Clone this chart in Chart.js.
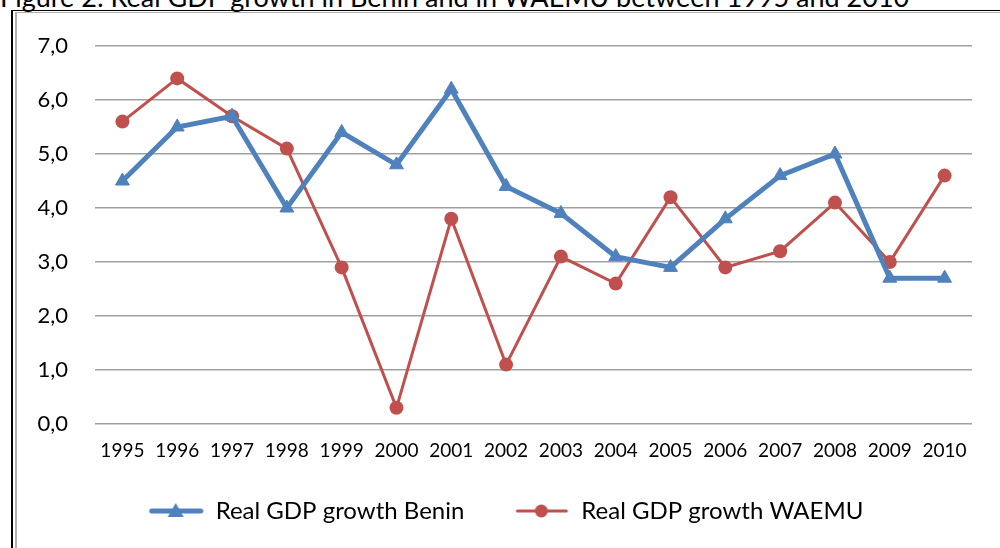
<!DOCTYPE html>
<html>
<head>
<meta charset="utf-8">
<script src="https://cdn.jsdelivr.net/npm/chart.js@4"></script>
<style>
    html, body { margin: 0; padding: 0; background: #fff; overflow: hidden; }
    body { width: 1000px; height: 548px; position: relative; font-family: Lato, sans-serif; }
    #title {
        position: absolute; left: 0; top: -20px; white-space: nowrap;
        font-size: 27px; color: #000;
    }
    #frame-outer {
        position: absolute; left: 11px; top: 10px; width: 1000px; height: 600px;
        border-left: 2px solid #000; border-top: 1px solid #000;
    }
    #frame-inner {
        position: absolute; left: 15px; top: 12px; width: 1000px; height: 600px;
        border-left: 2px solid #b0b0b0; border-top: 1px solid #b0b0b0;
    }
    #chart-wrap { position: absolute; left: 0; top: 0; width: 1000px; height: 548px; }
</style>
</head>
<body>
<div id="title">Figure 2: Real GDP growth in Benin and in WAEMU between 1995 and 2010</div>
<div id="frame-outer"></div>
<div id="frame-inner"></div>
<div id="chart-wrap"><canvas id="gdp-chart" width="1000" height="548"></canvas></div>
<script>
'use strict';

const years = ['1995', '1996', '1997', '1998', '1999', '2000', '2001', '2002',
    '2003', '2004', '2005', '2006', '2007', '2008', '2009', '2010'];
const growthBenin = [4.5, 5.5, 5.7, 4.0, 5.4, 4.8, 6.2, 4.4, 3.9, 3.1, 2.9, 3.8, 4.6, 5.0, 2.7, 2.7];
const growthWaemu = [5.6, 6.4, 5.7, 5.1, 2.9, 0.3, 3.8, 1.1, 3.1, 2.6, 4.2, 2.9, 3.2, 4.1, 3.0, 4.6];
const yTicks = [0, 1, 2, 3, 4, 5, 6, 7];

const BLUE = '#4f81bd';
const RED = '#c0504d';
const FONT = 'Lato, sans-serif';
const SWATCH_W = 95;

/** @description Legend swatch: line with marker in the middle, right part of the box */
function legendSwatch(color, lineWidth, marker) {
    let c = document.createElement('canvas');
    c.width = SWATCH_W;
    c.height = 18;
    let ctx = c.getContext('2d');
    let x0 = SWATCH_W - 55;
    let mid = x0 + 27;
    ctx.strokeStyle = color;
    ctx.fillStyle = color;
    ctx.lineWidth = lineWidth;
    ctx.lineCap = 'round';
    ctx.beginPath();
    ctx.moveTo(x0 + 3, 9);
    ctx.lineTo(SWATCH_W - 3, 9);
    ctx.stroke();
    ctx.beginPath();
    if (marker === 'triangle') {
        ctx.moveTo(mid, 1);
        ctx.lineTo(mid + 8, 15);
        ctx.lineTo(mid - 8, 15);
        ctx.closePath();
    } else {
        ctx.arc(mid, 9, 6.5, 0, Math.PI * 2);
    }
    ctx.fill();
    return c;
}

let ctx = document.getElementById('gdp-chart').getContext('2d');

let chart = new Chart(ctx, {
    type: 'line',
    data: {
        labels: years,
        datasets: [{
            label: 'Real GDP growth Benin',
            data: growthBenin,
            borderColor: BLUE,
            backgroundColor: BLUE,
            borderWidth: 5,
            pointStyle: 'triangle',
            pointRadius: 8,
            pointBorderWidth: 1,
            tension: 0
        }, {
            label: 'Real GDP growth WAEMU',
            data: growthWaemu,
            borderColor: RED,
            backgroundColor: RED,
            borderWidth: 3,
            pointStyle: 'circle',
            pointRadius: 7,
            pointBorderWidth: 0,
            tension: 0
        }]
    },
    options: {
        responsive: false,
        animation: false,
        maintainAspectRatio: false,
        layout: { padding: { top: 46, right: 28, left: 0, bottom: 15 } },
        plugins: {
            tooltip: { enabled: false },
            legend: {
                position: 'bottom',
                labels: {
                    font: { family: FONT, size: 24 },
                    color: '#000',
                    usePointStyle: true,
                    pointStyleWidth: SWATCH_W,
                    padding: 10,
                    generateLabels: function (chart) {
                        return [
                            { text: 'Real GDP growth Benin', pointStyle: legendSwatch(BLUE, 5, 'triangle'), datasetIndex: 0, lineWidth: 0 },
                            { text: 'Real GDP growth WAEMU', pointStyle: legendSwatch(RED, 3, 'circle'), datasetIndex: 1, lineWidth: 0 }
                        ];
                    }
                }
            }
        },
        scales: {
            x: {
                offset: true,
                grid: { display: false, drawTicks: false },
                border: { display: false },
                ticks: { font: { family: FONT, size: 19 }, color: '#000', padding: 15, maxRotation: 0, autoSkip: false },
                afterFit: function (scale) { scale.height = 65; }
            },
            y: {
                min: 0,
                max: 7,
                afterBuildTicks: function (scale) {
                    scale.ticks = yTicks.map(v => ({ value: v }));
                },
                grid: { color: '#a0a0a0', lineWidth: 1.5, drawTicks: false },
                border: { display: false },
                ticks: {
                    font: { family: FONT, size: 22 },
                    color: '#000',
                    padding: 27,
                    callback: v => v.toFixed(1).replace('.', ',')
                },
                afterFit: function (scale) { scale.width = 95; }
            }
        }
    }
});
</script>
</body>
</html>
